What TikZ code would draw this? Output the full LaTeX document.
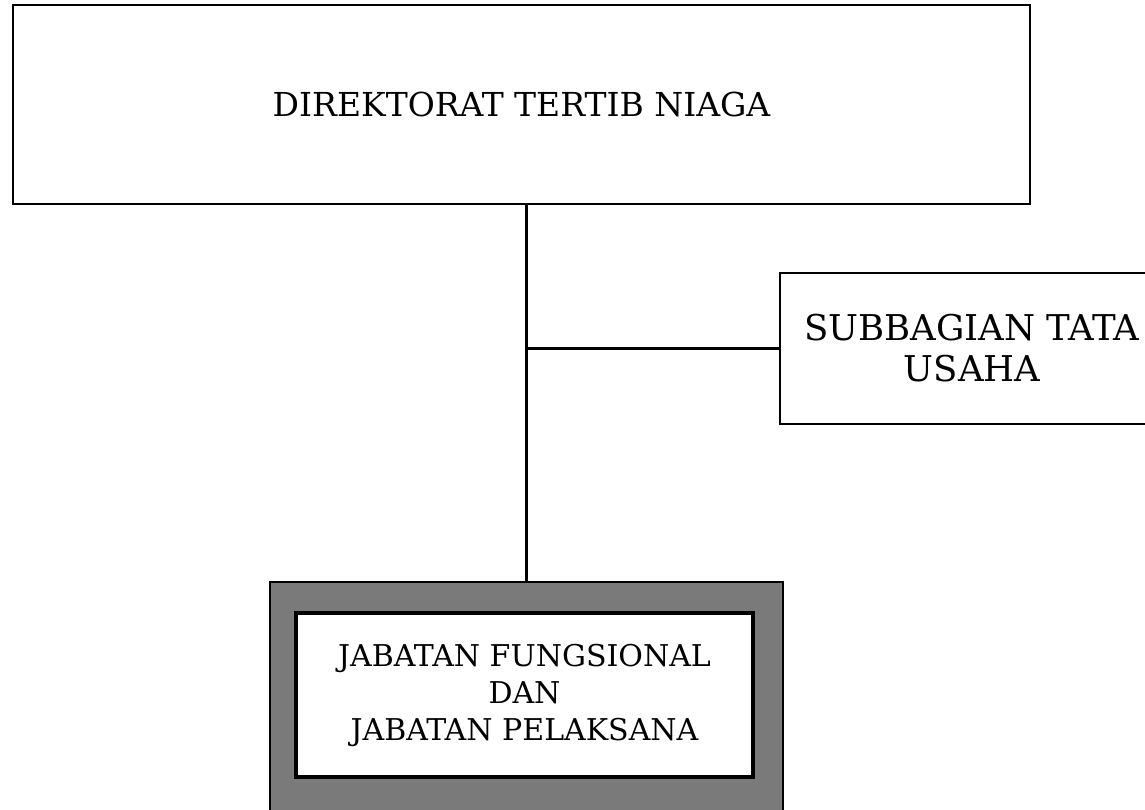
\documentclass[tikz,border=0pt]{standalone}
\usepackage{fontspec}
\setmainfont{DejaVu Serif}
\usepackage{tikz}
\usetikzlibrary{positioning}

\begin{document}
\begin{tikzpicture}[x=1pt, y=-1pt, line width=2.4pt,
    unit/.style={rectangle, draw, align=center, inner sep=0pt},
    big/.style={font=\fontsize{33}{41}\selectfont},
    side/.style={font=\fontsize{35.5}{41}\selectfont},
    small/.style={font=\fontsize{30}{37}\selectfont}]
    \useasboundingbox (0,0) rectangle (1145,810);
    \node[unit, big, minimum width=1017pt, minimum height=199pt] (dir) at (521.5,104.5) {DIREKTORAT TERTIB NIAGA};
    \node[unit, side, minimum width=384pt, minimum height=151pt] (tu) at (972,348.5) {SUBBAGIAN TATA\\USAHA};
    \node[unit, fill=black!52, minimum width=513pt, minimum height=230pt] (jf) at (526.5,697) {};
    \node[unit, small, fill=white, line width=3.2pt, minimum width=457pt, minimum height=164pt] (jfi) at (524.5,695) {JABATAN FUNGSIONAL\\DAN\\JABATAN PELAKSANA};
    \coordinate (br) at (jf.north |- tu.west);
    \draw (jf.north |- dir.south) -- (jf.north);
    \draw (br) -- (tu.west);
\end{tikzpicture}
\end{document}
